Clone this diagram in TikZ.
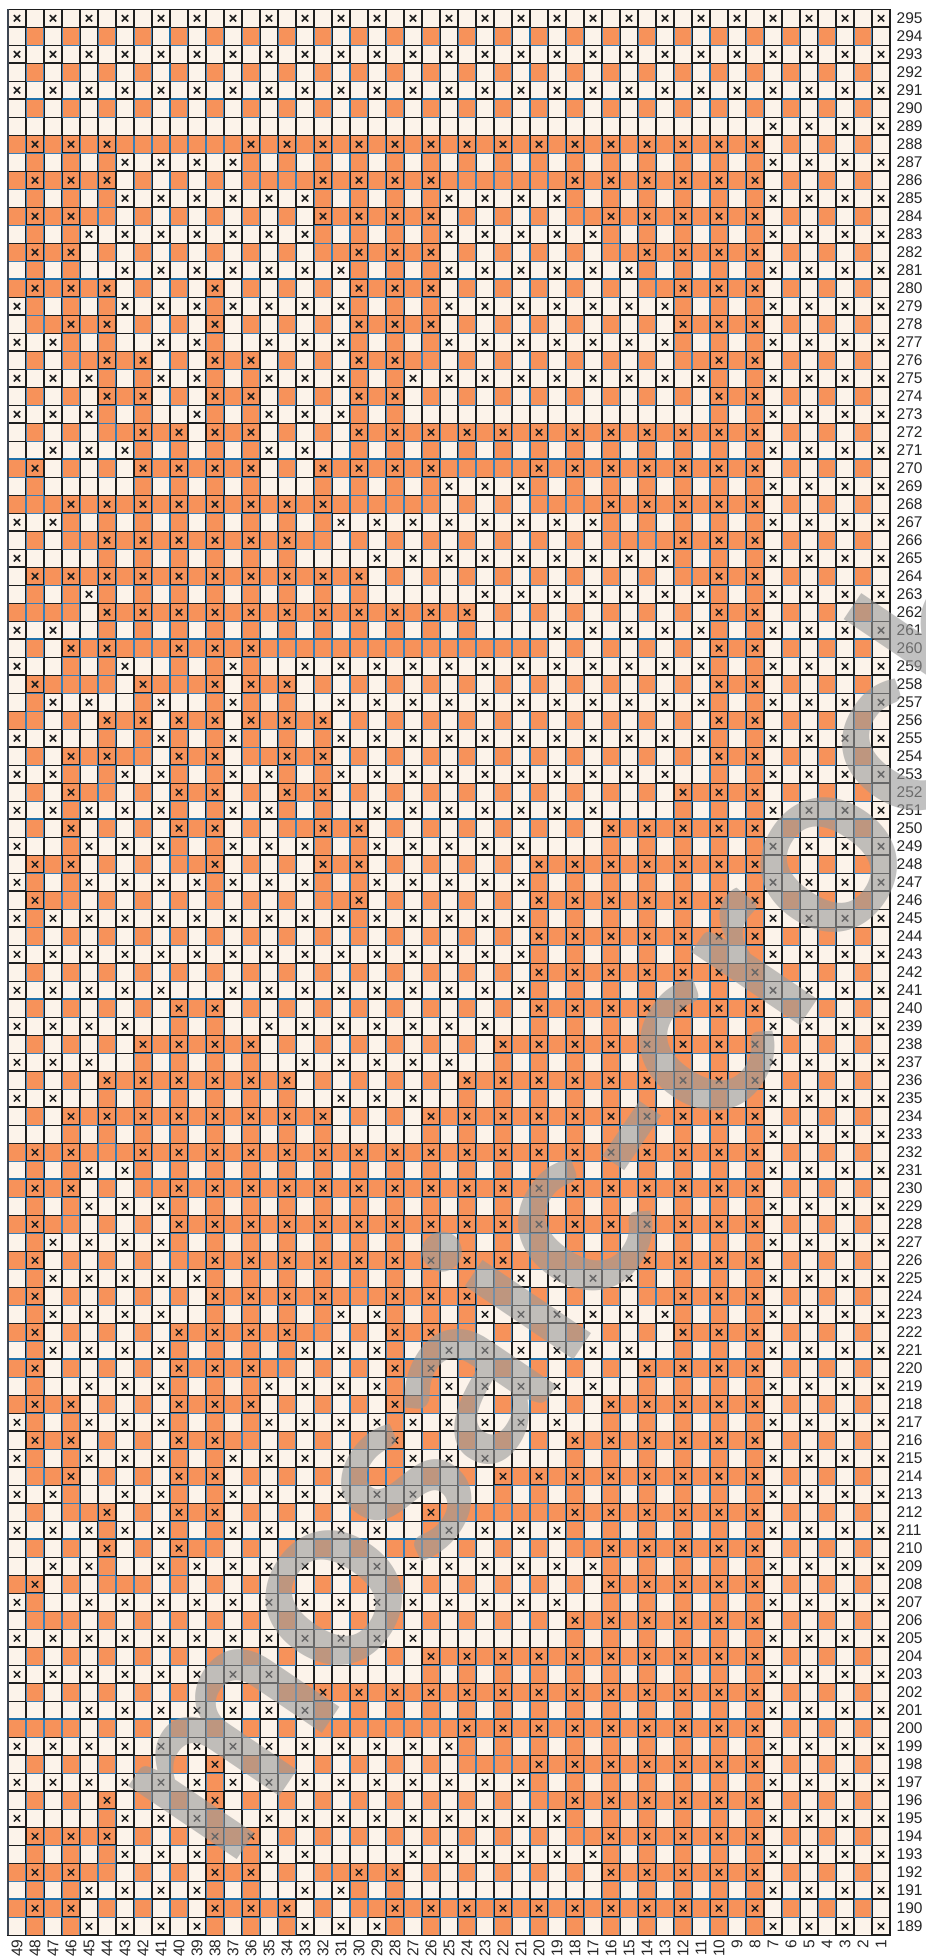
\documentclass[tikz,border=0pt]{standalone}
\usepackage{fontspec}
\newfontfamily\lblfont{Liberation Sans}
\newfontfamily\wmfont{Lato}
\definecolor{orng}{HTML}{F7925A}
\definecolor{crm}{HTML}{FCF3EA}
\definecolor{thinblue}{HTML}{3A7DB5}
\definecolor{majblue}{HTML}{1D6FA9}
\definecolor{edge}{HTML}{1E1E1E}
\definecolor{leftedge}{HTML}{3D4652}
\makeatletter
\newif\ifcream
\def\iscream#1#2{%
  \edef\@rr{\number\numexpr#1+1\relax}%
  \edef\@lst{\csname xr\@rr\endcsname}%
  \edef\@tmpa{\noexpand\in@{,\number#2,}{,\@lst,}}\@tmpa
  \ifodd#1\relax
    \ifodd#2\relax \creamtrue \else \ifin@ \creamfalse \else \creamtrue \fi \fi
  \else
    \ifodd#2\relax \ifin@ \creamtrue \else \creamfalse \fi \else \creamfalse \fi
  \fi}
\makeatother
\def\xrdef#1#2{\expandafter\def\csname xr#1\endcsname{#2}}
\xrdef{296}{0}
\xrdef{295}{49,47,45,43,41,39,37,35,33,31,29,27,25,23,21,19,17,15,13,11,9,7,5,3,1}
\xrdef{294}{0}
\xrdef{293}{49,47,45,43,41,39,37,35,33,31,29,27,25,23,21,19,17,15,13,11,9,7,5,3,1}
\xrdef{292}{0}
\xrdef{291}{49,47,45,43,41,39,37,35,33,31,29,27,25,23,21,19,17,15,13,11,9,7,5,3,1}
\xrdef{290}{0}
\xrdef{289}{7,5,3,1}
\xrdef{288}{48,46,44,36,34,32,30,28,26,24,22,20,18,16,14,12,10,8}
\xrdef{287}{43,41,39,37,7,5,3,1}
\xrdef{286}{48,46,44,32,30,28,26,18,16,14,12,10,8}
\xrdef{285}{43,41,39,37,35,33,25,23,21,19,7,5,3,1}
\xrdef{284}{48,46,32,30,28,26,16,14,12,10,8}
\xrdef{283}{45,43,41,39,37,35,33,25,23,21,19,17,7,5,3,1}
\xrdef{282}{48,46,30,28,26,14,12,10,8}
\xrdef{281}{43,41,39,37,35,33,31,25,23,21,19,17,15,7,5,3,1}
\xrdef{280}{48,46,44,38,30,28,26,12,10,8}
\xrdef{279}{49,43,41,39,37,35,33,31,25,23,21,19,17,15,13,7,5,3,1}
\xrdef{278}{46,44,38,30,28,26,12,10,8}
\xrdef{277}{49,47,41,39,35,33,31,25,23,21,19,17,15,13,7,5,3,1}
\xrdef{276}{44,42,38,36,30,28,10,8}
\xrdef{275}{49,47,45,41,39,35,33,31,27,25,23,21,19,17,15,13,11,7,5,3,1}
\xrdef{274}{44,42,38,36,30,28,10,8}
\xrdef{273}{49,47,45,39,35,33,31,7,5,3,1}
\xrdef{272}{42,40,38,36,30,28,26,24,22,20,18,16,14,12,10,8}
\xrdef{271}{47,45,43,35,33,7,5,3,1}
\xrdef{270}{48,42,40,38,36,32,30,28,26,20,18,16,14,12,10,8}
\xrdef{269}{25,23,21,7,5,3,1}
\xrdef{268}{46,44,42,40,38,36,34,32,16,14,12,10,8}
\xrdef{267}{49,47,31,29,27,25,23,21,19,17,7,5,3,1}
\xrdef{266}{44,42,40,38,36,34,12,10,8}
\xrdef{265}{49,29,27,25,23,21,19,17,15,13,7,5,3,1}
\xrdef{264}{48,46,44,42,40,38,36,34,32,30,10,8}
\xrdef{263}{45,23,21,19,17,15,13,11,7,5,3,1}
\xrdef{262}{44,42,40,38,36,34,32,30,28,26,24,10,8}
\xrdef{261}{49,47,19,17,15,13,11,7,5,3,1}
\xrdef{260}{46,44,40,38,36,10,8}
\xrdef{259}{49,43,37,33,31,29,27,25,23,21,19,17,15,13,11,7,5,3,1}
\xrdef{258}{48,42,38,36,34,10,8}
\xrdef{257}{47,45,41,37,31,29,27,25,23,21,19,17,15,13,11,7,5,3,1}
\xrdef{256}{44,42,40,38,36,34,32,10,8}
\xrdef{255}{49,47,41,37,31,29,27,25,23,21,19,17,15,13,11,7,5,3,1}
\xrdef{254}{46,44,40,38,34,32,10,8}
\xrdef{253}{49,47,43,41,37,35,31,29,27,25,23,21,19,17,15,13,7,5,3,1}
\xrdef{252}{46,40,38,34,32,12,10,8}
\xrdef{251}{49,47,45,43,41,37,35,29,27,25,23,21,19,17,7,5,3,1}
\xrdef{250}{46,40,38,32,30,16,14,12,10,8}
\xrdef{249}{49,45,43,41,37,35,33,29,27,25,23,21,7,5,3,1}
\xrdef{248}{48,46,38,32,30,20,18,16,14,12,10,8}
\xrdef{247}{49,45,43,41,39,37,35,33,29,27,25,23,21,7,5,3,1}
\xrdef{246}{48,30,20,18,16,14,12,10,8}
\xrdef{245}{49,47,45,43,41,39,37,35,33,31,29,27,25,23,21,7,5,3,1}
\xrdef{244}{20,18,16,14,12,10,8}
\xrdef{243}{49,47,45,43,41,39,37,35,33,31,29,27,25,23,21,7,5,3,1}
\xrdef{242}{20,18,16,14,12,10,8}
\xrdef{241}{49,47,45,43,41,37,35,33,31,29,27,25,23,21,7,5,3,1}
\xrdef{240}{40,38,20,18,16,14,12,10,8}
\xrdef{239}{49,47,45,43,35,33,31,29,27,25,23,7,5,3,1}
\xrdef{238}{42,40,38,36,22,20,18,16,14,12,10,8}
\xrdef{237}{49,47,45,33,31,29,27,25,7,5,3,1}
\xrdef{236}{44,42,40,38,36,34,24,22,20,18,16,14,12,10,8}
\xrdef{235}{49,47,31,29,27,7,5,3,1}
\xrdef{234}{46,44,42,40,38,36,34,32,26,24,22,20,18,16,14,12,10,8}
\xrdef{233}{7,5,3,1}
\xrdef{232}{48,46,42,40,38,36,34,32,30,28,26,24,22,20,18,16,14,12,10,8}
\xrdef{231}{45,43,7,5,3,1}
\xrdef{230}{48,46,40,38,36,34,32,30,28,26,24,22,20,18,16,14,12,10,8}
\xrdef{229}{45,43,41,7,5,3,1}
\xrdef{228}{48,40,38,36,34,32,30,28,26,24,22,20,18,16,14,12,10,8}
\xrdef{227}{47,45,43,41,7,5,3,1}
\xrdef{226}{48,38,36,34,32,30,28,26,24,22,14,12,10,8}
\xrdef{225}{47,45,43,41,39,21,19,17,15,7,5,3,1}
\xrdef{224}{48,38,36,34,32,28,26,24,12,10,8}
\xrdef{223}{47,45,43,41,31,29,23,21,19,17,15,13,7,5,3,1}
\xrdef{222}{48,40,38,36,34,28,26,12,10,8}
\xrdef{221}{47,45,43,41,33,31,29,25,23,21,19,17,15,7,5,3,1}
\xrdef{220}{48,40,38,36,28,26,14,12,10,8}
\xrdef{219}{45,43,41,35,33,31,29,25,23,21,19,17,7,5,3,1}
\xrdef{218}{48,46,40,38,36,28,16,14,12,10,8}
\xrdef{217}{49,45,43,41,35,33,31,29,27,25,23,21,19,7,5,3,1}
\xrdef{216}{48,46,40,38,28,18,16,14,12,10,8}
\xrdef{215}{49,45,43,41,37,35,33,31,27,25,23,7,5,3,1}
\xrdef{214}{46,40,38,22,20,18,16,14,12,10,8}
\xrdef{213}{49,47,43,41,37,35,33,31,29,27,7,5,3,1}
\xrdef{212}{44,40,38,26,18,16,14,12,10,8}
\xrdef{211}{49,47,45,43,41,37,35,33,31,29,25,23,21,19,7,5,3,1}
\xrdef{210}{44,40,16,14,12,10,8}
\xrdef{209}{47,45,41,39,37,35,33,31,29,27,25,23,21,19,17,7,5,3,1}
\xrdef{208}{48,16,14,12,10,8}
\xrdef{207}{49,45,43,41,39,37,35,33,31,29,27,25,23,21,19,7,5,3,1}
\xrdef{206}{18,16,14,12,10,8}
\xrdef{205}{49,47,45,43,41,39,37,35,33,31,29,27,7,5,3,1}
\xrdef{204}{26,24,22,20,18,16,14,12,10,8}
\xrdef{203}{49,47,45,43,41,39,37,35,7,5,3,1}
\xrdef{202}{32,30,28,26,24,22,20,18,16,14,12,10,8}
\xrdef{201}{45,43,41,39,37,35,33,7,5,3,1}
\xrdef{200}{24,22,20,18,16,14,12,10,8}
\xrdef{199}{49,47,45,43,41,39,37,35,33,31,29,27,25,7,5,3,1}
\xrdef{198}{38,20,18,16,14,12,10,8}
\xrdef{197}{49,47,45,43,41,39,37,35,33,31,29,27,25,23,21,7,5,3,1}
\xrdef{196}{44,38,18,16,14,12,10,8}
\xrdef{195}{49,43,41,39,35,33,31,29,27,25,23,21,19,7,5,3,1}
\xrdef{194}{48,46,44,38,36,16,14,12,10,8}
\xrdef{193}{43,41,39,35,33,27,25,23,21,19,17,7,5,3,1}
\xrdef{192}{48,46,38,36,30,28,16,14,12,10,8}
\xrdef{191}{45,43,41,39,33,31,7,5,3,1}
\xrdef{190}{48,46,38,36,34,28,26,24,22,20,18,16,14,12,10,8}
\xrdef{189}{45,43,41,39,33,31,29,7,5,3,1}
\begin{document}
\begin{tikzpicture}[x=1pt,y=-1pt,
  creamcell/.style={fill=crm,draw=edge,line width=0.8pt},
  orangecell/.style={fill=orng,draw=thinblue,line width=0.8pt},
  xbox/.style={draw=edge,line width=1.1pt},
  xmark/.style={draw=edge,line width=1.5pt},
  majline/.style={line width=2.3pt},
  lbl/.style={font=\lblfont\fontsize{15.5}{16}\selectfont,text=black!85,inner sep=0pt}]
\useasboundingbox (0,0) rectangle (926,1957);
\fill[white] (0,0) rectangle (926,1957);
% cells
\foreach \r in {189,...,295}{%
  \edef\yy{\the\numexpr18*(295-\r)+9\relax.3}%
  \foreach \c in {1,...,49}{%
    \edef\xx{\the\numexpr8+18*(49-\c)\relax}%
    \iscream{\r}{\c}%
    \ifcream\path[creamcell] (\xx+0.4,\yy+0.4) rectangle ++(17.2,17.2);%
    \else\path[orangecell] (\xx+0.4,\yy+0.4) rectangle ++(17.2,17.2);\fi
  }%
}
% major horizontal lines
\foreach \r in {190,200,...,290}{%
  \edef\yy{\the\numexpr18*(295-\r)+9\relax.3}%
  \edef\rp{\the\numexpr\r+1\relax}%
  \foreach \c in {1,...,49}{%
    \edef\xx{\the\numexpr8+18*(49-\c)\relax}%
    \iscream{\r}{\c}\ifcream\iscream{\rp}{\c}\fi
    \ifcream\def\lc{edge}\else\def\lc{majblue}\fi
    \draw[majline,draw=\lc] (\xx,\yy) -- ++(18,0);
  }%
}
% major vertical lines
\foreach \c in {10,20,30,40}{%
  \edef\xx{\the\numexpr8+18*(49-\c)\relax}%
  \edef\cp{\the\numexpr\c+1\relax}%
  \foreach \r in {189,...,295}{%
    \edef\yy{\the\numexpr18*(295-\r)+9\relax.3}%
    \iscream{\r}{\c}\ifcream\iscream{\r}{\cp}\fi
    \ifcream\def\lc{edge}\else\def\lc{majblue}\fi
    \draw[majline,draw=\lc] (\xx,\yy) -- ++(0,18);
  }%
}
% x marks
\foreach \r in {189,...,295}{%
  \edef\yy{\the\numexpr18*(295-\r)+9\relax.3}%
  \edef\lst{\csname xr\r\endcsname}%
  \foreach \c in \lst {%
    \ifnum\c>0
      \edef\xx{\the\numexpr8+18*(49-\c)\relax}%
      \draw[xbox] (\xx+0.55,\yy+0.55) rectangle ++(16.9,16.9);
      \draw[xmark] (\xx+5.8,\yy+5.8) -- ++(6.4,6.4) (\xx+12.2,\yy+5.8) -- ++(-6.4,6.4);
    \fi
  }%
}
% outer frame
\draw[line width=1.4pt,edge] (8,9.3) rectangle (890,1935.3);
\draw[line width=2.6pt,leftedge] (8,9.3) -- (8,1935.3);
% row labels
\foreach \r in {189,...,295}{%
  \edef\yy{\the\numexpr18*(295-\r)+18\relax.3}%
  \node[lbl,anchor=west] (rl\r) at (896.5,\yy) {\r};
}
% column labels
\foreach \c in {1,...,49}{%
  \edef\xx{\the\numexpr17+18*(49-\c)\relax}%
  \node[lbl,anchor=east,rotate=90] (cl\c) at (\xx,1939.5) {\c};
}
% watermark
\node[rotate=56,text=black!40,opacity=0.6,inner sep=0pt,
  font={\wmfont\bfseries\fontsize{255}{255}\selectfont}] (wm) at (637,1099) {mosaic-crochet};
\end{tikzpicture}
\end{document}
